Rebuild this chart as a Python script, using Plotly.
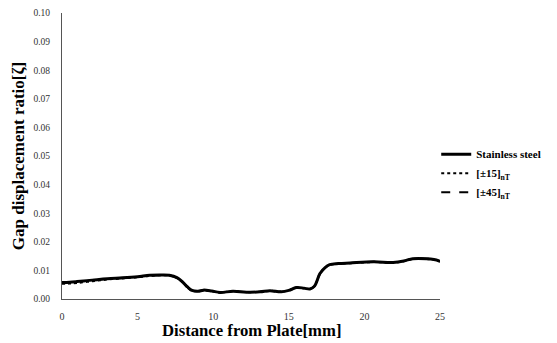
import plotly.graph_objects as go

# Distance from plate [mm]
distance = [0, 0.5, 1, 2, 3, 4, 5, 5.8, 6.5, 7.1, 7.6, 8.0, 8.3, 8.6, 9.0, 9.35, 9.9, 10.45, 11.3, 12.2,
            13.1, 13.75, 14.5, 15.0, 15.5, 16.0, 16.4, 16.7, 17.06, 17.4, 17.7, 18.3, 19.05, 20.6, 21.9,
            22.6, 23.2, 24.1, 24.6, 25]
stainless = [0.0058, 0.0059, 0.0061, 0.0066, 0.0071, 0.0074, 0.0078, 0.0083, 0.0084, 0.0083, 0.0075, 0.0058,
             0.0042, 0.0030, 0.0027, 0.0031, 0.0028, 0.0023, 0.0027, 0.0024,
             0.0025, 0.0029, 0.0025, 0.0030, 0.0040, 0.0038, 0.0035, 0.0045, 0.0089, 0.0110, 0.0120, 0.0124,
             0.0126, 0.0130, 0.0128, 0.0133, 0.0141, 0.0141, 0.0138, 0.0132]
pm15 = [0.0053, 0.0054, 0.0056, 0.0062, 0.0068, 0.0072, 0.0076, 0.0081, 0.0083, 0.0082, 0.0074, 0.0057,
        0.0041, 0.0029, 0.0027, 0.0030, 0.0027, 0.0023, 0.0027, 0.0024,
        0.0025, 0.0028, 0.0025, 0.0030, 0.0039, 0.0037, 0.0035, 0.0045, 0.0088, 0.0109, 0.0119, 0.0123,
        0.0125, 0.0129, 0.0127, 0.0132, 0.0140, 0.0140, 0.0137, 0.0131]
pm45 = [0.0057, 0.0058, 0.0060, 0.0065, 0.0070, 0.0073, 0.0077, 0.0082, 0.0083, 0.0082, 0.0074, 0.0057,
        0.0041, 0.0029, 0.0027, 0.0031, 0.0028, 0.0023, 0.0027, 0.0024,
        0.0025, 0.0029, 0.0025, 0.0030, 0.0040, 0.0038, 0.0035, 0.0045, 0.0089, 0.0110, 0.0120, 0.0124,
        0.0126, 0.0130, 0.0128, 0.0133, 0.0141, 0.0141, 0.0138, 0.0132]

series_names = ["<b>Stainless steel</b>", "<b>[±15]<sub>nT</sub></b>", "<b>[±45]<sub>nT</sub></b>"]
y_ticks = [0.00, 0.01, 0.02, 0.03, 0.04, 0.05, 0.06, 0.07, 0.08, 0.09, 0.10]
x_ticks = [0, 5, 10, 15, 20, 25]
x_title = "<b>Distance from Plate[mm]</b>"
y_title = "<b>Gap displacement ratio[ζ]</b>"

serif = "Liberation Serif"

fig = go.Figure()
fig.add_trace(go.Scatter(x=distance, y=pm15, mode="lines", name=series_names[1], legendrank=2,
                         line=dict(color="black", width=2, dash="dot", shape="spline")))
fig.add_trace(go.Scatter(x=distance, y=pm45, mode="lines", name=series_names[2], legendrank=3,
                         line=dict(color="black", width=2, dash="dash", shape="spline")))
fig.add_trace(go.Scatter(x=distance, y=stainless, mode="lines", name=series_names[0], legendrank=1,
                         line=dict(color="black", width=3, shape="spline")))

fig.add_annotation(text=x_title, xref="paper", yref="paper", x=0.5, y=-0.11,
                   xanchor="center", yanchor="middle", showarrow=False,
                   font=dict(size=16.7, family=serif, color="black"))

fig.update_layout(
    width=549, height=335,
    margin=dict(l=54, r=117, t=5, b=44, autoexpand=False),
    paper_bgcolor="white", plot_bgcolor="white",
    font=dict(family=serif, color="black", size=10),
    legend=dict(x=0.99, y=0.44, xanchor="left", yanchor="middle", traceorder="normal",
                font=dict(size=11, family=serif), itemwidth=30, tracegroupgap=0,
                bgcolor="rgba(0,0,0,0)"),
    xaxis=dict(range=[0, 25], tickvals=x_ticks, showgrid=False, zeroline=False, automargin=False,
               showline=True, linecolor="#555", linewidth=1, ticks="outside", ticklen=8, tickcolor="white",
               tickfont=dict(size=10, family=serif, color="#333")),
    yaxis=dict(range=[0, 0.10], tickvals=y_ticks, tickformat=".2f", showgrid=False, zeroline=False,
               automargin=False,
               showline=True, linecolor="#555", linewidth=1, ticks="outside", ticklen=9, tickcolor="white",
               tickfont=dict(size=9.5, family=serif, color="#333"),
               title=dict(text=y_title, standoff=4,
                          font=dict(size=17, family=serif))),
)

fig.write_html("out.html")
